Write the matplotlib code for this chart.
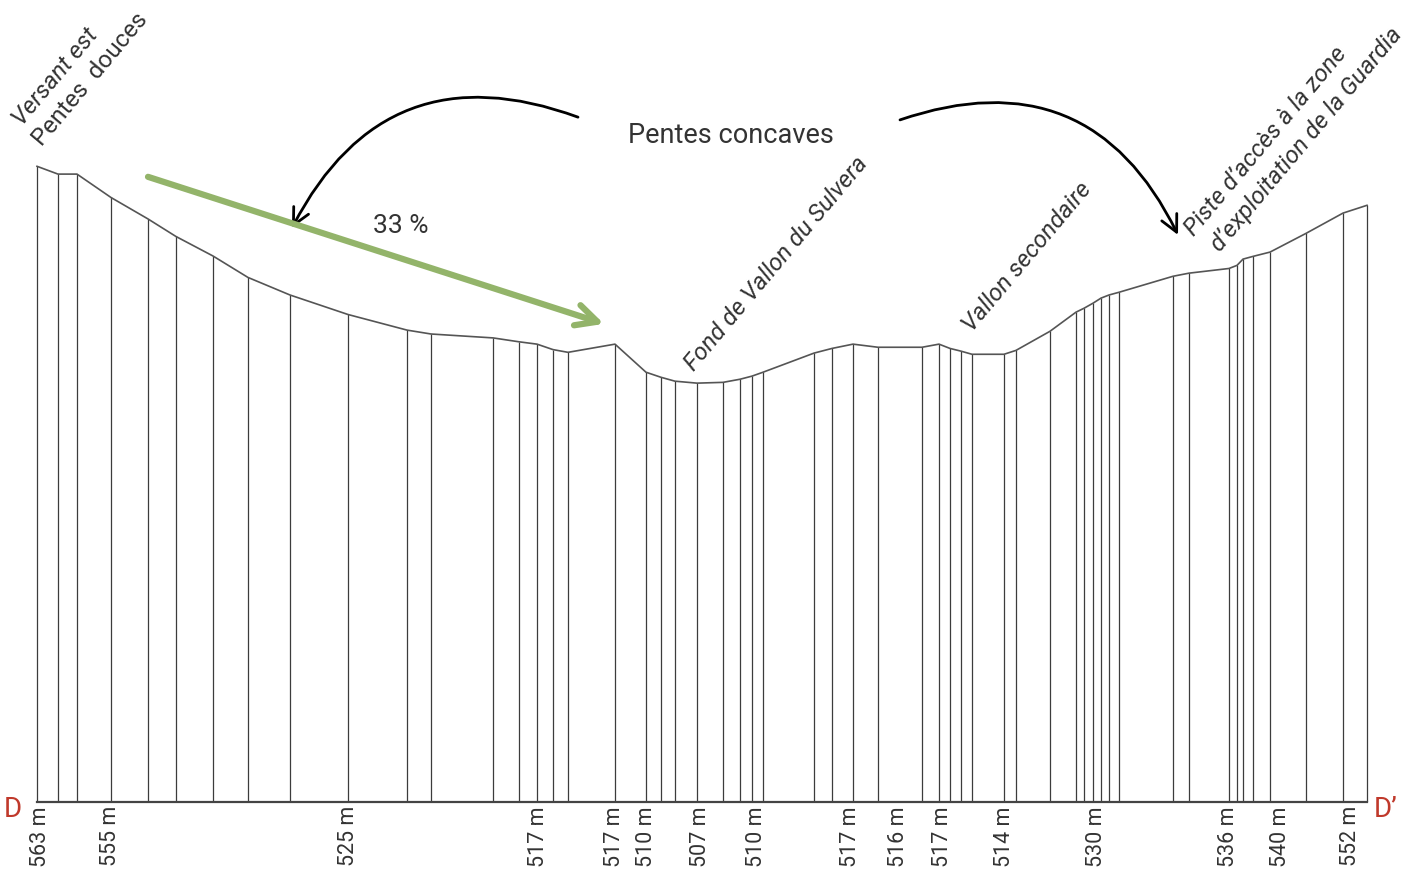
import matplotlib
matplotlib.use("Agg")
import matplotlib.pyplot as plt
from matplotlib.patches import FancyArrowPatch

# Profile D - D' : distance along section (arbitrary units) and elevation (m)
dist = [37, 58, 77, 111, 148, 176, 213, 248, 290, 348, 407, 431, 493, 519, 537,
        553, 568, 615, 646, 661, 675, 697, 723, 740, 752, 763, 814, 832, 853,
        878, 922, 939, 950, 961, 972, 1004, 1016, 1050, 1076, 1084, 1093, 1101,
        1109, 1119, 1173, 1189, 1229, 1237, 1243, 1253, 1270, 1306, 1343, 1367]
elev = [563, 561, 561, 555, 549.5, 545, 540, 534.5, 530, 525, 521, 520, 519,
        518, 517.4, 516, 515.3, 517.4, 510.2, 508.9, 507.9, 507.4, 507.6, 508.4,
        509.2, 510.2, 515.1, 516.3, 517.4, 516.6, 516.6, 517.4, 516.3, 515.6,
        514.8, 514.8, 515.8, 520.7, 525.6, 526.6, 527.9, 529.2, 530, 530.7,
        534.8, 535.6, 536.8, 537.6, 539.2, 539.9, 541, 545.8, 551, 553]

# Labelled spot heights
label_pos = [40, 111, 349, 538, 614, 647, 700, 757, 851, 898, 943, 1004, 1097,
             1229, 1280, 1350]
label_alt = [563, 555, 525, 517, 517, 510, 507, 510, 517, 516, 517, 514, 530,
             536, 540, 552]

base = 400
px_per_m = 3.9

plt.rcParams['font.family'] = ['Roboto', 'DejaVu Sans']
txt = '#333333'
fw = 'normal'

fig = plt.figure(figsize=(14.1, 8.71), dpi=100)
ax = fig.add_axes([0, 69 / 871, 1, 802 / 871])
ax.set_xlim(0, 1410)
ax.set_ylim(base, base + 802 / px_per_m)
for s in ax.spines.values():
    s.set_visible(False)
ax.set_yticks([])

# profile
ax.vlines(dist, base, elev, color='#3c3c3c', lw=0.9)
ax.plot(dist, elev, color='#555555', lw=1.2)
ax.plot([dist[0], dist[-1]], [base, base], color='#444444', lw=1.6, clip_on=False)

ax.set_xticks(label_pos, labels=[f"{a} m" for a in label_alt], rotation=90,
              fontsize=15.5, fontweight=fw, color=txt)
ax.tick_params(axis='x', length=0, pad=3)

ax.text(13, 398, "D", color='#c0392b', fontsize=20, fontweight=fw,
        ha='center', va='center')
ax.text(1386, 398, "D\u2019", color='#c0392b', fontsize=20, fontweight=fw,
        ha='center', va='center')

# slope arrow
ax.annotate("", xy=(604, 522.6), xytext=(148, 560.3),
            arrowprops=dict(arrowstyle='->', lw=4.5, color='#93b46a',
                            mutation_scale=38, shrinkA=0, shrinkB=0))
ax.text(401, 547.7, "33 %", fontsize=19, fontweight=fw, color=txt,
        ha='center', va='center')

# concave slopes
ax.text(731, 571, "Pentes concaves", fontsize=19.5, fontweight=fw, color=txt,
        ha='center', va='center')
ax.add_patch(FancyArrowPatch((578, 575.6), (292, 547.2),
                             connectionstyle="arc3,rad=0.44", arrowstyle='->',
                             mutation_scale=30, lw=2, color='black',
                             shrinkA=0, shrinkB=0))
ax.add_patch(FancyArrowPatch((900, 574.9), (1178, 545.4),
                             connectionstyle="arc3,rad=-0.44", arrowstyle='->',
                             mutation_scale=30, lw=2, color='black',
                             shrinkA=0, shrinkB=0))

# rotated annotations
rot = dict(rotation=50, rotation_mode='anchor', ha='left', va='baseline',
           fontsize=17.5, fontweight=fw, color=txt)
ax.text(22, 573.2, "Versant est", style='italic', **rot)
ax.text(42, 568.0, "Pentes  douces", **rot)
ax.text(694, 510.3, "Fond de Vallon du Sulvera", style='italic', **rot)
ax.text(972, 520.3, "Vallon secondaire", style='italic', **rot)
ax.text(1194, 544.9, "Piste d\u2019accès à la zone", style='italic', **rot)
ax.text(1220, 540.8, "d\u2019exploitation de la Guardia", style='italic', **rot)

fig.savefig("out.png", dpi=100, facecolor='white')
